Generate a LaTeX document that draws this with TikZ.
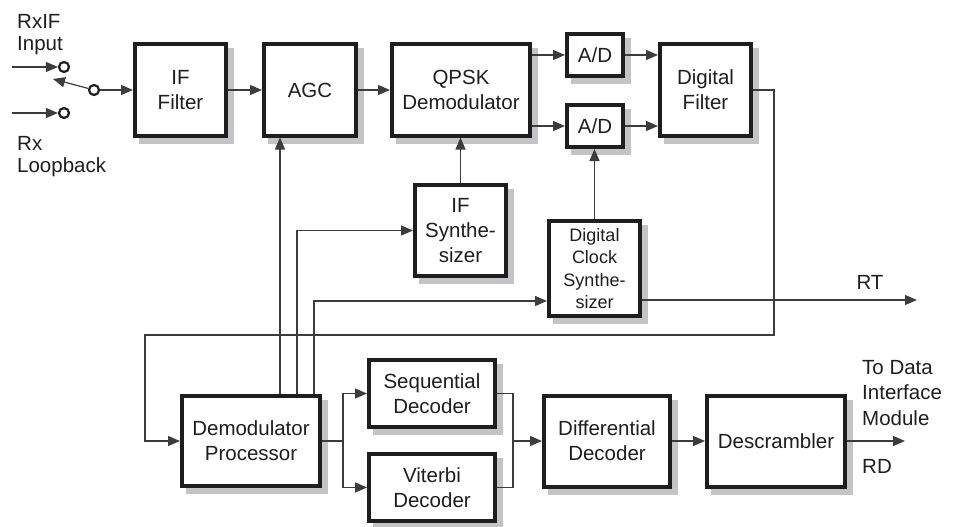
\documentclass[tikz,border=0pt]{standalone}
\usepackage{fontspec}
\setmainfont{Liberation Sans}
\usetikzlibrary{arrows.meta,calc}
\definecolor{ink}{HTML}{1E1E1E}
\definecolor{wire}{HTML}{3C3C3C}
\definecolor{dropgray}{HTML}{C4C4C6}

\tikzset{
  x=1pt, y=-1pt,
  txt/.style={font=\fontsize{20.5}{25}\selectfont, text=ink, inner sep=0pt},
  blk/.style={txt, draw=ink, line width=4pt, fill=white, align=center},
  small/.style={font=\fontsize{18}{22.5}\selectfont},
  wire/.style={draw=wire, line width=1.2pt},
  arr/.style={wire, -{Triangle[length=12pt,width=10pt]}},
  contact/.style={circle, draw=ink, line width=2.2pt, fill=white,
    minimum size=10pt, inner sep=0pt},
  lbl/.style={txt, align=left, anchor=west},
  drop/.style={fill=dropgray, draw=none},
}

% a block with its drop shadow: \shadowblock[options]{name}{centre}{width}{height}{text}
\newcommand\shadowblock[6][]{%
  \fill[drop] ($#3+(0.5*#4+2,0.5*#5+2)+(6,6)$) rectangle ($#3-(0.5*#4+2,0.5*#5+2)+(6,6)$);
  \node[blk, #1, minimum width=#4, minimum height=#5] (#2) at #3 {#6};%
}

\begin{document}
\begin{tikzpicture}
\useasboundingbox (0,0) rectangle (961,527);

% signal path blocks
\shadowblock{iff}{(180.5,90)}{91}{91}{IF\\Filter}
\shadowblock{agc}{(310,90)}{92}{91}{AGC}
\shadowblock{qpsk}{(461,90)}{138}{91}{QPSK\\Demodulator}
\shadowblock{ad1}{(595,55)}{56}{42}{A/D}
\shadowblock{ad2}{(595,126)}{56}{42}{A/D}
\shadowblock{df}{(705.5,90)}{91}{91}{Digital\\Filter}
\shadowblock{ifs}{(460.5,230.5)}{91}{91}{IF\\Synthe-\\sizer}
\shadowblock[small]{dcs}{(594.5,268.5)}{91}{95}{Digital\\Clock\\Synthe-\\sizer}
\shadowblock{dp}{(251,441)}{138}{90}{Demodulator\\Processor}
\shadowblock{sd}{(432,393.5)}{126}{67}{Sequential\\Decoder}
\shadowblock{vd}{(432,487.5)}{126}{67}{Viterbi\\Decoder}
\shadowblock{dd}{(607,441)}{126}{91}{Differential\\Decoder}
\shadowblock{ds}{(776,441)}{138}{91}{Descrambler}

% input selector
\node[contact] (c1) at (64,67)  {};
\node[contact] (c2) at (64,113) {};
\node[contact] (c0) at (94,90)  {};
\coordinate (inA) at (12,67);
\coordinate (inB) at (12,113);
\coordinate (arm) at (53,79);
\draw[arr] (inA) -- (c1);
\draw[arr] (inB) -- (c2);
\draw[arr] (c0) -- (arm);
\draw[arr] (c0) -- (c0 -| iff.west);

\node[lbl, font=\fontsize{20.5}{21.5}\selectfont] (lin) at (17,34.5) {RxIF\\Input};
\node[lbl, font=\fontsize{20.5}{22}\selectfont]   (llb) at (17,156.5)  {Rx\\Loopback};

% main chain
\draw[arr] (iff) -- (agc);
\draw[arr] (agc) -- (qpsk);
\draw[arr] (qpsk.east |- ad1) -- (ad1.west);
\draw[arr] (qpsk.east |- ad2) -- (ad2.west);
\draw[arr] (ad1.east) -- (ad1.east -| df.west);
\draw[arr] (ad2.east) -- (ad2.east -| df.west);
\draw[arr] (ifs.north) -- (ifs.north |- qpsk.south);
\draw[arr] (dcs.north) -- (dcs.north |- ad2.south);

% controls from the demodulator processor
\draw[arr] ([xshift=29pt]dp.north) -- ([xshift=29pt]dp.north |- agc.south);
\draw[arr] ([xshift=46pt]dp.north) |- (ifs.west);
\draw[arr] ([xshift=63pt]dp.north) |- ($(dcs.west)+(0,32.5)$);

% feedback from the digital filter
\coordinate (fbA) at (774,335);
\coordinate (fbB) at (145,335);
\draw[arr] (df.east) -| (fbA) -- (fbB) |- (dp.west);

% RT output
\coordinate (rtend) at (917,300);
\draw[arr] (dcs.east |- rtend) -- (rtend);
\node[txt] (rt) at (870,282) {RT};

% decoders
\coordinate (split) at (343,441);
\coordinate (join) at (513,441);
\draw[wire] (dp.east) -- (split);
\draw[arr] (split) |- (sd.west);
\draw[arr] (split) |- (vd.west);
\draw[wire] (sd.east) -| (join);
\draw[wire] (vd.east) -| (join);
\draw[arr] (join) -- (dd.west);
\draw[arr] (dd) -- (ds);

% RD output
\coordinate (rdend) at (905,441);
\draw[arr] (ds.east) -- (rdend);
\node[lbl, font=\fontsize{20.5}{25.5}\selectfont] (dim) at (862,393) {To Data\\Interface\\Module};
\node[lbl] (rd) at (862,466) {RD};
\end{tikzpicture}
\end{document}
